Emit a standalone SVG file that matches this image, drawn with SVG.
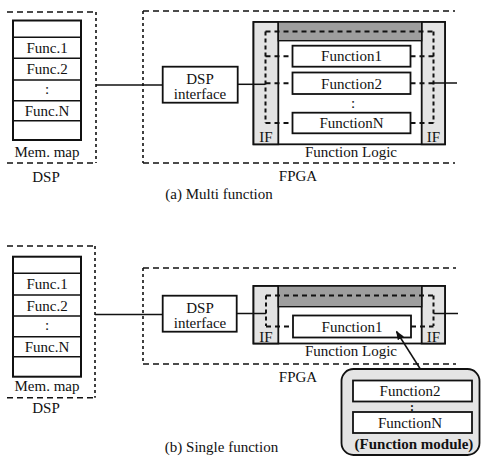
<svg xmlns="http://www.w3.org/2000/svg" width="481" height="456" viewBox="0 0 481 456" font-family="'Liberation Serif', 'Times New Roman', 'DejaVu Serif', serif">
  <defs>
    <style>
      text { font-family: "Liberation Serif", "Times New Roman", "DejaVu Serif", serif; font-size: 15px; fill: #111; text-anchor: middle; }
      .bold { font-weight: bold; }
      .dots { font-size: 12px; font-weight: bold; }
      .box { fill: #fff; stroke: #111; stroke-width: 1.8; }
      .mem { fill: #fff; stroke: #111; stroke-width: 2; }
      .row { stroke: #111; stroke-width: 1.6; }
      .grp-h { fill: none; stroke: #111; stroke-width: 1.6; stroke-dasharray: 6 4; }
      .grp-v { fill: none; stroke: #111; stroke-width: 1.6; stroke-dasharray: 3 3; }
      .ifcol { fill: #e3e3e3; stroke: #111; stroke-width: 1.8; }
      .band { fill: #9e9e9e; stroke: #111; stroke-width: 1.4; }
      .bus { fill: none; stroke: #111; stroke-width: 2; stroke-dasharray: 5 4; }
      .bus-v { fill: none; stroke: #111; stroke-width: 2; stroke-dasharray: 4 3; }
      .wire { fill: none; stroke: #111; stroke-width: 1.5; }
      .module { fill: #e4e4e4; stroke: #111; stroke-width: 1.8; }
    </style>
    <marker id="arrow" viewBox="0 0 10 10" refX="9" refY="5" markerWidth="9" markerHeight="9" markerUnits="userSpaceOnUse" orient="auto">
      <path d="M0,1 L10,5 L0,9 z" fill="#111"/>
    </marker>
  </defs>

  <!-- ===== (a) Multi function ===== -->
  <g id="dsp-a">
    <path class="grp-h" d="M7,12 H96 M7,163 H96"/>
    <path class="grp-v" d="M96,12 V163"/>
    <text x="46" y="181.5">DSP</text>
  </g>
  <g id="memmap-a">
    <rect class="mem" x="13" y="20.5" width="68" height="119.5"/>
    <path class="row" d="M13,37.3 H81 M13,58.3 H81 M13,80 H81 M13,100.7 H81 M13,120.7 H81"/>
    <text x="47" y="53">Func.1</text>
    <text x="47" y="74.2">Func.2</text>
    <text x="47" y="94">:</text>
    <text x="47" y="115.7">Func.N</text>
    <text x="47" y="156.5">Mem. map</text>
  </g>
  <g id="fpga-a">
    <path class="grp-h" d="M143,11 H455 M143,163 H455"/>
    <path class="grp-v" d="M143,11 V163"/>
    <text x="298" y="180.5">FPGA</text>
  </g>
  <g id="dspif-a">
    <rect class="box" x="162.7" y="66.7" width="75" height="36"/>
    <text x="200" y="83.5">DSP</text>
    <text x="200" y="99">interface</text>
  </g>
  <g id="funclogic-a">
    <rect class="box" x="253.5" y="22" width="191.5" height="122.3"/>
    <rect class="ifcol" x="253.5" y="22" width="24.8" height="122.3"/>
    <rect class="ifcol" x="421.7" y="22" width="23.3" height="122.3"/>
    <rect class="band" x="278.3" y="22" width="143.4" height="18.7"/>
    <text x="266" y="142">IF</text>
    <text x="433.5" y="142">IF</text>
    <text x="351" y="157.3">Function Logic</text>
  </g>
  <g id="function1-a">
    <rect class="box" x="292.5" y="45.7" width="118" height="21"/>
    <text x="351.5" y="61.3">Function1</text>
  </g>
  <g id="function2-a">
    <rect class="box" x="292.5" y="72.5" width="118" height="21.5"/>
    <text x="351.5" y="88.5">Function2</text>
  </g>
  <text x="353" y="108">:</text>
  <g id="functionN-a">
    <rect class="box" x="292.5" y="112.7" width="118" height="20.6"/>
    <text x="351.5" y="128.2">FunctionN</text>
  </g>
  <text x="219" y="199">(a) Multi function</text>

  <!-- ===== (b) Single function ===== -->
  <g id="dsp-b">
    <path class="grp-h" d="M7,246 H95 M7,397.7 H95"/>
    <path class="grp-v" d="M95,246 V397.7"/>
    <text x="46" y="413">DSP</text>
  </g>
  <g id="memmap-b">
    <rect class="mem" x="13" y="256.7" width="68" height="120"/>
    <path class="row" d="M13,273.3 H81 M13,295 H81 M13,316 H81 M13,336.7 H81 M13,356.7 H81"/>
    <text x="47" y="289.2">Func.1</text>
    <text x="47" y="310.5">Func.2</text>
    <text x="47" y="330">:</text>
    <text x="47" y="351.7">Func.N</text>
    <text x="47" y="391">Mem. map</text>
  </g>
  <g id="fpga-b">
    <path class="grp-h" d="M143,268 H456 M143,364 H456"/>
    <path class="grp-v" d="M143,268 V364"/>
    <text x="298" y="381.7">FPGA</text>
  </g>
  <g id="dspif-b">
    <rect class="box" x="162.7" y="295.7" width="74" height="36"/>
    <text x="200" y="312.5">DSP</text>
    <text x="200" y="328">interface</text>
  </g>
  <g id="funclogic-b">
    <rect class="box" x="253.5" y="286" width="191.5" height="57.5"/>
    <rect class="ifcol" x="253.5" y="286" width="24.8" height="57.5"/>
    <rect class="ifcol" x="421.7" y="286" width="23.3" height="57.5"/>
    <rect class="band" x="278.3" y="286" width="143.4" height="20.7"/>
    <text x="266" y="342">IF</text>
    <text x="433.5" y="342">IF</text>
    <text x="351" y="355.5">Function Logic</text>
  </g>
  <g id="function1-b">
    <rect class="box" x="293" y="315.5" width="118" height="22"/>
    <text x="352" y="331.5">Function1</text>
  </g>
  <g id="module-b">
    <rect class="module" x="341.5" y="369" width="138" height="86" rx="12" ry="12"/>
    <rect class="box" x="353" y="380.5" width="119" height="21"/>
    <text x="410" y="395.5">Function2</text>
    <text class="dots" x="412" y="411">:</text>
    <rect class="box" x="353" y="412" width="119" height="21"/>
    <text x="410" y="427.5">FunctionN</text>
    <text class="bold" x="414" y="448.5">(Function module)</text>
  </g>
  <text x="221.5" y="452">(b) Single function</text>

  <!-- ===== connectors ===== -->
  <g id="connectors">
    <!-- (a) wires -->
    <path class="wire" d="M96,85 H162.7"/>
    <path class="wire" d="M237.7,84.3 H265.5"/>
    <path class="wire" d="M433.5,83 H457"/>
    <!-- (a) internal bus -->
    <path class="bus" d="M265.5,31.5 H433.5"/>
    <path class="bus-v" d="M265.5,31.5 V123 M433.5,31.5 V123"/>
    <path class="bus" d="M265.5,56.3 H292.5 M265.5,83.3 H292.5 M265.5,123 H292.5"/>
    <path class="bus" d="M410.5,56.3 H433.5 M410.5,83.3 H433.5 M410.5,123 H433.5"/>
    <!-- (b) wires -->
    <path class="wire" d="M95,314.5 H162.7"/>
    <path class="wire" d="M236.7,313.5 H266"/>
    <path class="wire" d="M433.5,313.5 H458"/>
    <!-- (b) internal bus -->
    <path class="bus" d="M266,295.5 H433.5"/>
    <path class="bus-v" d="M266,295.5 V326 M433.5,295.5 V326"/>
    <path class="bus" d="M266,326.5 H293 M411,326.5 H433.5"/>
    <!-- module loaded into Function1 -->
    <path class="wire" d="M420,368.5 L396.5,331.5" marker-end="url(#arrow)"/>
  </g>
</svg>
